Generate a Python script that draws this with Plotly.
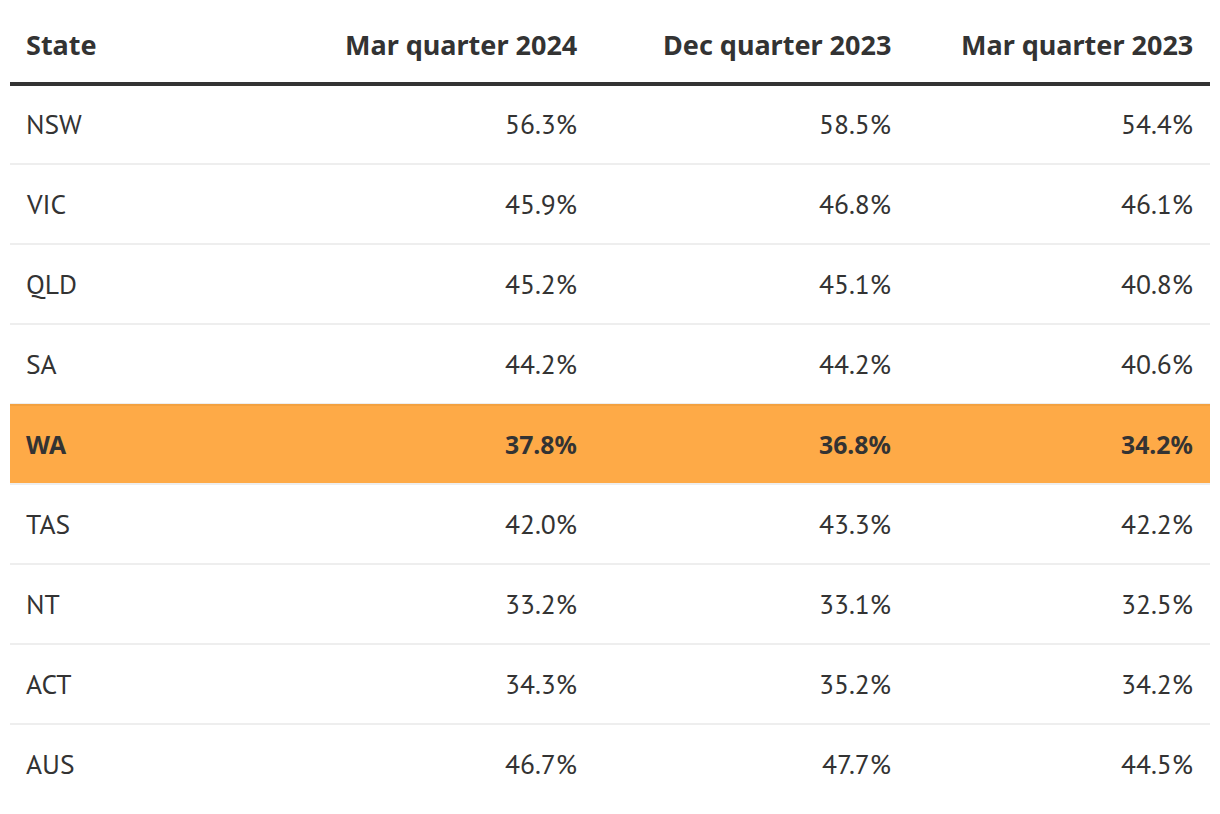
import plotly.graph_objects as go

# ---- data ----
headers = ["State", "Mar quarter 2024", "Dec quarter 2023", "Mar quarter 2023"]
states = ["NSW", "VIC", "QLD", "SA", "WA", "TAS", "NT", "ACT", "AUS"]
mar_2024 = [56.3, 45.9, 45.2, 44.2, 37.8, 42.0, 33.2, 34.3, 46.7]
dec_2023 = [58.5, 46.8, 45.1, 44.2, 36.8, 43.3, 33.1, 35.2, 47.7]
mar_2023 = [54.4, 46.1, 40.8, 40.6, 34.2, 42.2, 32.5, 34.2, 44.5]
highlight_state = "WA"

# ---- styling / layout ----
W, H = 1220, 814
OFF = 8  # page body margin offset
FONT_REG = "PT Sans, Lato, sans-serif"
FONT_BOLD = "Noto Sans, PT Sans, sans-serif"
TXT = "#333333"
ORANGE = "#FEAA47"
ORANGE_EDGE = "#F3A140"
SEP = "#EEEEEE"
table_x0, table_x1 = 10, 1210
header_center = 44
header_line_y = 84
row_top0 = 84
row_h = 80
text_left_x = 24
col_right_x = [579, 893, 1195]
FS_REG = 27.5
FS_HEAD = 27
FS_BOLD = 24.8

fig = go.Figure()
fig.add_trace(go.Scatter(x=[OFF, W], y=[OFF, H], mode="markers",
                         marker=dict(opacity=0), hoverinfo="skip", showlegend=False))

shapes = []
annotations = []


def ann(x, y, text, anchor, bold, size):
    return dict(x=x, y=y, text=("<b>%s</b>" % text) if bold else text,
                xanchor=anchor, yanchor="middle", showarrow=False,
                font=dict(family=FONT_BOLD if bold else FONT_REG, size=size, color=TXT))


annotations.append(ann(text_left_x, header_center, headers[0], "left", True, FS_HEAD))
for j, h in enumerate(headers[1:]):
    annotations.append(ann(col_right_x[j], header_center, h, "right", True, FS_HEAD))

columns = [mar_2024, dec_2023, mar_2023]
for i, st in enumerate(states):
    top = row_top0 + i * row_h
    bot = top + row_h
    cy = top + row_h / 2
    hl = st == highlight_state
    fs = FS_BOLD if hl else FS_REG
    if hl:
        shapes.append(dict(type="rect", xref="x", yref="y", x0=table_x0, x1=table_x1,
                           y0=top, y1=bot, fillcolor=ORANGE, line=dict(width=0), layer="below"))
        shapes.append(dict(type="line", xref="x", yref="y", x0=table_x0, x1=table_x1,
                           y0=top + 1, y1=top + 1, line=dict(color=ORANGE_EDGE, width=2)))
    if i < len(states) - 1:
        shapes.append(dict(type="line", xref="x", yref="y", x0=table_x0, x1=table_x1,
                           y0=bot, y1=bot, line=dict(color=SEP, width=2)))
    annotations.append(ann(text_left_x, cy, st, "left", hl, fs))
    for j, col in enumerate(columns):
        annotations.append(ann(col_right_x[j], cy, "%.1f%%" % col[i], "right", hl, fs))

shapes.append(dict(type="line", xref="x", yref="y", x0=table_x0, x1=table_x1,
                   y0=header_line_y, y1=header_line_y, line=dict(color=TXT, width=4)))

fig.update_layout(
    width=W, height=H,
    margin=dict(l=0, r=0, t=0, b=0),
    paper_bgcolor="white", plot_bgcolor="white",
    xaxis=dict(range=[OFF, W + OFF], visible=False, fixedrange=True),
    yaxis=dict(range=[H + OFF, OFF], visible=False, fixedrange=True),
    shapes=shapes, annotations=annotations,
    showlegend=False,
)
fig.write_html("out.html", config={"displayModeBar": False})
